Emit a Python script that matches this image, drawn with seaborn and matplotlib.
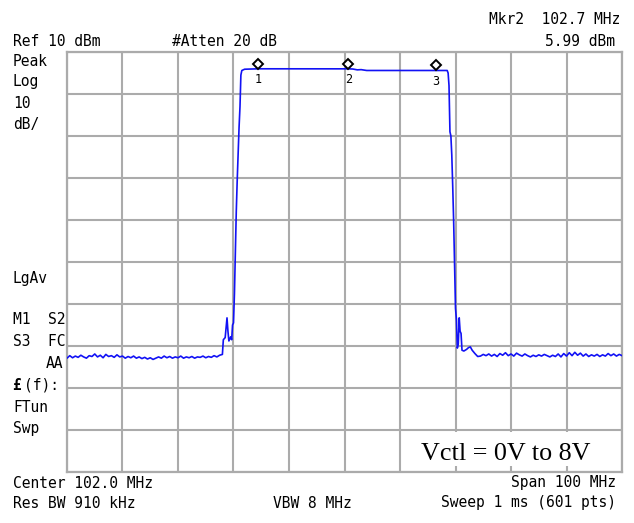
import numpy as np
import pandas as pd
import matplotlib
matplotlib.use("Agg")
import matplotlib.pyplot as plt
from matplotlib.patches import Rectangle
from matplotlib.transforms import offset_copy
import seaborn as sns

# ---------------- data ----------------
left_noise_mhz = [52.0, 52.5, 53.0, 53.5, 54.0, 54.5, 55.0, 55.5, 56.0, 56.5,
                  57.0, 57.5, 58.0, 58.5, 59.0, 59.5, 60.0, 60.5, 61.0, 61.5,
                  62.0, 62.5, 63.0, 63.5, 64.0, 64.5, 65.0, 65.5, 66.0, 66.5,
                  67.0, 67.5, 68.0, 68.5, 69.0, 69.5, 70.0, 70.5, 71.0, 71.5,
                  72.0, 72.5, 73.0, 73.5, 74.0, 74.5, 75.0, 75.5, 76.0, 76.5,
                  77.0, 77.5, 78.0, 78.5, 79.0, 79.5, 80.0]
left_noise_dbm = [-62.9, -62.3, -62.8, -62.4, -62.7, -62.2, -62.6, -62.9, -62.3, -62.5,
                  -61.9, -62.6, -62.2, -62.8, -62.0, -62.5, -62.3, -62.7, -62.1, -62.6,
                  -62.4, -62.9, -62.5, -62.8, -62.4, -62.9, -62.6, -63.0, -62.7, -63.1,
                  -62.8, -63.2, -62.9, -62.6, -62.9, -62.4, -62.8, -62.5, -62.9, -62.6,
                  -62.8, -62.4, -62.9, -62.6, -62.8, -62.5, -62.9, -62.6, -62.7, -62.4,
                  -62.8, -62.5, -62.7, -62.3, -62.6, -62.2, -62.0]

rise_mhz = [80.17, 80.5, 80.83, 81.0, 81.17, 81.5, 81.67, 81.83, 82.0, 82.17,
            82.33, 82.5, 82.67, 82.83, 83.0, 83.17, 83.33, 83.5, 84.0]
rise_dbm = [-58.5, -58.0, -53.3, -56.5, -58.8, -57.8, -58.5, -55.0, -54.5, -47.5,
            -38.0, -28.0, -20.5, -14.5, -8.0, -3.0, 4.5, 5.6, 5.9]

top_mhz = [86.5, 90.0, 95.0, 100.0, 102.7, 103.5, 104.3, 105.0, 106.0, 110.0,
           115.0, 118.5, 120.5]
top_dbm = [6.0, 6.0, 6.0, 6.0, 5.99, 5.95, 5.75, 5.8, 5.6, 5.6,
           5.6, 5.6, 5.6]

fall_mhz = [120.67, 120.83, 121.0, 121.17, 121.33, 121.5, 121.67, 121.83, 122.0, 122.17,
            122.33, 122.5, 122.67, 122.83, 123.0, 123.17, 123.5, 124.0, 124.33, 124.67,
            125.0, 125.5, 126.0]
fall_dbm = [5.0, 2.0, -9.0, -10.0, -14.5, -22.0, -30.5, -40.7, -51.0, -53.8,
            -60.5, -59.5, -53.3, -56.5, -57.0, -61.0, -61.2, -60.8, -60.4, -60.2,
            -61.0, -61.8, -62.5]

right_noise_mhz = [126.5, 127.0, 127.5, 128.0, 128.5, 129.0, 129.5, 130.0, 130.5, 131.0,
                   131.5, 132.0, 132.5, 133.0, 133.5, 134.0, 134.5, 135.0, 135.5, 136.0,
                   136.5, 137.0, 137.5, 138.0, 138.5, 139.0, 139.5, 140.0, 140.5, 141.0,
                   141.5, 142.0, 142.5, 143.0, 143.5, 144.0, 144.5, 145.0, 145.5, 146.0,
                   146.5, 147.0, 147.5, 148.0, 148.5, 149.0, 149.5, 150.0, 150.5, 151.0,
                   151.5, 152.0]
right_noise_dbm = [-62.4, -62.0, -62.3, -61.9, -62.4, -62.0, -62.5, -61.8, -62.2, -61.6,
                   -62.3, -61.9, -62.4, -61.7, -62.1, -62.4, -61.9, -62.3, -62.6, -62.2,
                   -62.5, -62.1, -62.4, -62.0, -62.3, -62.6, -62.2, -62.5, -61.9, -62.6,
                   -61.8, -62.4, -61.6, -62.3, -61.5, -62.2, -61.7, -62.4, -61.9, -62.5,
                   -62.1, -62.4, -62.0, -62.5, -62.1, -62.4, -61.8, -62.3, -61.9, -62.4,
                   -62.0, -62.3]

marker_mhz = [86.5, 102.7, 118.5]
marker_dbm = [6.0, 5.99, 5.6]
marker_labels = ["1", "2", "3"]

x_ticks = [52, 62, 72, 82, 92, 102, 112, 122, 132, 142, 152]
y_ticks = [-90, -80, -70, -60, -50, -40, -30, -20, -10, 0, 10]

freq = left_noise_mhz + rise_mhz + top_mhz + fall_mhz + right_noise_mhz
level = left_noise_dbm + rise_dbm + top_dbm + fall_dbm + right_noise_dbm
df = pd.DataFrame({"freq": freq, "level": level})

# ---------------- figure ----------------
sns.set_style("white")
plt.rcParams["font.family"] = ["DejaVu Sans Mono", "DejaVu Sans"]

W, H = 634, 523
fig = plt.figure(figsize=(W / 100, H / 100), dpi=100)
ax = fig.add_axes([67 / W, 51 / H, 555 / W, 420 / H])

grid_col = "#ababab"
sns.lineplot(data=df, x="freq", y="level", ax=ax, sort=False, estimator=None,
             color="#1212f5", linewidth=1.2, zorder=3)

ax.set_xlim(52, 152)
ax.set_ylim(-90, 10)
ax.set_xticks(x_ticks)
ax.set_yticks(y_ticks)
ax.set_xticklabels([])
ax.set_yticklabels([])
ax.tick_params(length=0)
ax.set_xlabel("")
ax.set_ylabel("")
ax.set_axisbelow(True)
ax.grid(True, color=grid_col, linewidth=1.5)
for s in ax.spines.values():
    s.set_color(grid_col)
    s.set_linewidth(1.6)
    s.set_visible(True)

# markers (diamond above trace, number below)
up = offset_copy(ax.transData, fig=fig, x=0, y=5, units="dots")
down = offset_copy(ax.transData, fig=fig, x=0, y=-11, units="dots")
ax.plot(marker_mhz, marker_dbm, linestyle="none", marker="D", markersize=5,
        markerfacecolor="white", markeredgecolor="black", markeredgewidth=1.4,
        transform=up, zorder=4, clip_on=False)
for f, l, t in zip(marker_mhz, marker_dbm, marker_labels):
    ax.text(f, l, t, transform=down, ha="center", va="center", fontsize=8.5,
            color="black", zorder=4)

# white annotation box
ax.add_patch(Rectangle((0.6036, 0.0143), 0.391, 0.081, transform=ax.transAxes,
                       facecolor="white", edgecolor="none", zorder=2))
fig.text(505.5 / W, 1 - 460 / H, "Vctl = 0V to 8V", ha="center", va="baseline",
         fontsize=18.8, family=["Liberation Serif", "DejaVu Serif"], color="black")

# instrument annotations
fs = 10.5
def ftxt(x, y, s, ha="left", **kw):
    fig.text(x / W, 1 - y / H, s, ha=ha, va="center", fontsize=fs, color="black", **kw)

ftxt(620.5, 19, "Mkr2  102.7 MHz", ha="right")
ftxt(615, 41, "5.99 dBm", ha="right")
ftxt(13, 41, "Ref 10 dBm")
ftxt(172, 41, "#Atten 20 dB")
ftxt(13, 61, "Peak")
ftxt(13, 82, "Log")
ftxt(13, 103, "10")
ftxt(13, 124, "dB/")
ftxt(13, 278, "LgAv")
ftxt(13, 320, "M1  S2")
ftxt(13, 341, "S3  FC")
ftxt(63, 363, "AA", ha="right")
ftxt(12, 385, "£", fontweight="bold")
ftxt(24, 385, "(f):")
ftxt(13, 407, "FTun")
ftxt(13, 428, "Swp")
ftxt(13, 483, "Center 102.0 MHz")
ftxt(13, 503, "Res BW 910 kHz")
ftxt(273, 503, "VBW 8 MHz")
ftxt(616, 483, "Span 100 MHz", ha="right")
ftxt(616, 503, "Sweep 1 ms (601 pts)", ha="right")

fig.savefig("out.png", dpi=100, facecolor="white")
